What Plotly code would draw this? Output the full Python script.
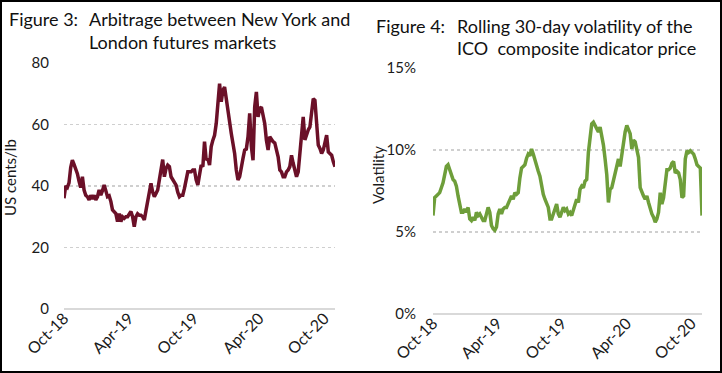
import pandas as pd
import plotly.graph_objects as go

# ---------------- data ----------------
arbitrage_values = [
    36, 40, 39.5, 41, 46, 48.4, 47, 45.5, 44, 41.5, 39.5, 43, 38.7, 37, 36.5, 35.5,
    37, 35.8, 37, 35.5, 36.5, 38.7, 37, 38.5, 40.3, 38.5, 36.5, 36.8, 35, 32.2, 31.7, 31,
    28.4, 31, 28.4, 30, 29.5, 30, 30, 31, 31.7, 30, 26.8, 30, 31, 30.5, 30.5, 30,
    29, 32, 35, 38, 40.9, 38, 36.5, 37.6, 38.7, 42, 45.2, 48.6, 43, 45.7, 46.8, 46.3,
    43, 42, 41.5, 40.3, 38, 36.5, 37, 37, 39.2, 42, 44.6, 44.6, 44.6, 45.2, 45.2, 42,
    40.3, 43.6, 46.8, 46.3, 54.4, 48.4, 49, 46.8, 52.8, 54.9, 56.5, 60.3, 66.8, 73.3, 67.4, 71.1,
    72.2, 67.9, 63.6, 59.8, 57.1, 53.8, 50.6, 45.2, 42, 43, 46.8, 49, 51.7, 52, 56, 63.6,
    52.8, 48.4, 65.7, 70.6, 62.5, 65.2, 65.7, 62.5, 60.3, 54.9, 51.7, 56, 54.9, 54.4, 54, 51.7,
    49.5, 45.2, 44.6, 43, 43, 44.6, 45.2, 46.3, 50, 47.4, 44.6, 43, 44.6, 50.6, 58, 62.5,
    55, 57.1, 58.2, 59.2, 64.6, 68.4, 67.9, 61.4, 53.3, 52.2, 50.6, 51.7, 54, 56.5, 51.1, 50.6,
    50, 47.9, 46.3,
]

volatility_values = [
    6.0, 7.1, 7.2, 7.3, 7.4, 7.7, 8.0, 8.5, 9.0, 9.1, 8.8, 8.4, 8.2, 8.1, 7.8, 7.2,
    6.6, 6.2, 6.2, 6.4, 6.2, 6.5, 5.8, 5.7, 5.9, 5.7, 6.2, 6.0, 6.1, 5.9, 5.7, 5.7,
    6.1, 6.5, 6.2, 5.4, 5.2, 5.1, 5.3, 6.1, 6.4, 6.1, 6.4, 6.5, 6.5, 6.7, 7.0, 7.2,
    7.0, 7.4, 7.3, 7.4, 8.3, 8.9, 9.0, 9.1, 9.5, 9.75, 9.65, 10.06, 9.75, 9.35, 8.9, 8.7,
    8.4, 7.8, 7.3, 7.0, 6.8, 6.5, 5.8, 5.8, 6.1, 6.4, 6.7, 6.1, 5.9, 6.2, 6.5, 6.3,
    6.4, 6.1, 6.2, 6.0, 6.4, 6.7, 7.0, 6.8, 7.6, 7.8, 7.7, 8.1, 8.2, 9.85, 10.9, 11.6,
    11.7, 11.5, 11.4, 11.1, 11.4, 10.9, 10.3, 9.45, 8.5, 6.8, 7.6, 7.7, 8.2, 8.5, 9.0, 9.45,
    9.0, 9.75, 10.3, 11.1, 11.5, 11.2, 11.0, 10.06, 10.6, 10.5, 10.06, 9.55, 7.7, 7.4, 7.2, 7.0,
    7.2, 6.8, 6.4, 6.1, 5.9, 5.6, 5.8, 6.2, 7.4, 6.7, 7.1, 7.8, 8.8, 8.8, 8.9, 9.2,
    9.3, 8.6, 8.7, 8.6, 8.2, 7.1, 7.2, 9.45, 9.95, 9.85, 9.95, 9.85, 9.75, 9.45, 9.1, 9.0,
    8.9, 6.0,
]

start_date = "2018-10-01"
end_date = "2020-10-31"
tick_dates = ["2018-10-01", "2019-04-01", "2019-10-01", "2020-04-01", "2020-10-01"]
tick_labels = ["Oct-18", "Apr-19", "Oct-19", "Apr-20", "Oct-20"]

left_ytick_vals = [0, 20, 40, 60, 80]
left_ytick_text = ["0", "20", "40", "60", "80"]
right_ytick_vals = [0, 5, 10, 15]
right_ytick_text = ["0%", "5%", "10%", "15%"]

left_title_label = "Figure 3:"
left_title_lines = ["Arbitrage between New York and", "London futures markets"]
right_title_label = "Figure 4:"
right_title_lines = ["Rolling 30-day volatility of the", "ICO\u00a0 composite indicator price"]
left_ytitle = "US cents/lb"
right_ytitle = "Volatility"

# ---------------- figure ----------------
W, H = 722, 373
FONT = "Lato"
TXT = "#1b1b1b"
ARB_COLOR = "#6B1028"
VOL_COLOR = "#6E9E3A"

dates_arb = pd.date_range(start_date, end_date, periods=len(arbitrage_values))
dates_vol = pd.date_range(start_date, end_date, periods=len(volatility_values))


def px_x(p):
    return p / W


def px_y(p):
    return 1 - p / H


fig = go.Figure()
fig.add_trace(go.Scatter(x=dates_arb, y=arbitrage_values, mode="lines",
                         line=dict(color=ARB_COLOR, width=3.5),
                         xaxis="x", yaxis="y", showlegend=False))
fig.add_trace(go.Scatter(x=dates_vol, y=volatility_values, mode="lines",
                         line=dict(color=VOL_COLOR, width=3.5),
                         xaxis="x2", yaxis="y2", showlegend=False))

xcommon = dict(type="date", range=[start_date, end_date], tickvals=tick_dates,
               ticktext=tick_labels, tickangle=-45, showgrid=False, showline=False,
               zeroline=False, ticks="", tickfont=dict(family=FONT, size=16, color=TXT),
               automargin=False, fixedrange=True, ticklabelstandoff=-4)
ycommon = dict(showgrid=True, gridcolor="#cfcfcf", griddash="dot", gridwidth=1.5,
               zeroline=True, zerolinecolor="#d9d9d9", zerolinewidth=2,
               showline=False, ticks="", tickfont=dict(family=FONT, size=15, color=TXT),
               automargin=False, fixedrange=True)

fig.update_layout(
    width=W, height=H,
    margin=dict(l=0, r=0, t=0, b=0),
    paper_bgcolor="white", plot_bgcolor="white",
    xaxis=dict(domain=[px_x(64), px_x(335)], anchor="y", **xcommon),
    yaxis=dict(domain=[px_y(309), px_y(63)], anchor="x", range=[0, 80],
               tickvals=left_ytick_vals, ticktext=left_ytick_text,
               ticklabelstandoff=14, **ycommon),
    xaxis2=dict(domain=[px_x(433), px_x(702)], anchor="y2", **xcommon),
    yaxis2=dict(domain=[px_y(314), px_y(68)], anchor="x2", range=[0, 15],
                tickvals=right_ytick_vals, ticktext=right_ytick_text,
                ticklabelstandoff=16, **ycommon),
)

ann = []
tfont = dict(family=FONT, size=18, color="#111111")
# Left title
ann.append(dict(text=left_title_label, x=px_x(7), y=px_y(19), xanchor="left", yanchor="middle"))
ann.append(dict(text=left_title_lines[0], x=px_x(87), y=px_y(19), xanchor="left", yanchor="middle"))
ann.append(dict(text=left_title_lines[1], x=px_x(87), y=px_y(42), xanchor="left", yanchor="middle"))
# Right title
ann.append(dict(text=right_title_label, x=px_x(374), y=px_y(26), xanchor="left", yanchor="middle"))
ann.append(dict(text=right_title_lines[0], x=px_x(455), y=px_y(26), xanchor="left", yanchor="middle"))
ann.append(dict(text=right_title_lines[1], x=px_x(455), y=px_y(48), xanchor="left", yanchor="middle"))
for a in ann:
    a.update(xref="paper", yref="paper", showarrow=False, font=tfont)

# Axis titles
ann.append(dict(text=left_ytitle, x=px_x(10), y=px_y(178), xref="paper", yref="paper",
                textangle=-90, showarrow=False, xanchor="center", yanchor="middle",
                font=dict(family=FONT, size=15, color=TXT)))
ann.append(dict(text=right_ytitle, x=px_x(378), y=px_y(175), xref="paper", yref="paper",
                textangle=-90, showarrow=False, xanchor="center", yanchor="middle",
                font=dict(family=FONT, size=15, color=TXT)))
fig.update_layout(annotations=ann)

# Outer frame
fig.add_shape(type="rect", xref="paper", yref="paper",
              x0=px_x(1), x1=px_x(W - 1), y0=px_y(H - 1), y1=px_y(1),
              line=dict(color="black", width=2), fillcolor="rgba(0,0,0,0)", layer="above")

fig.write_html("out.html",
               config={"displayModeBar": False, "staticPlot": True},
               post_script="document.body.style.margin='0';document.body.style.overflow='hidden';")
